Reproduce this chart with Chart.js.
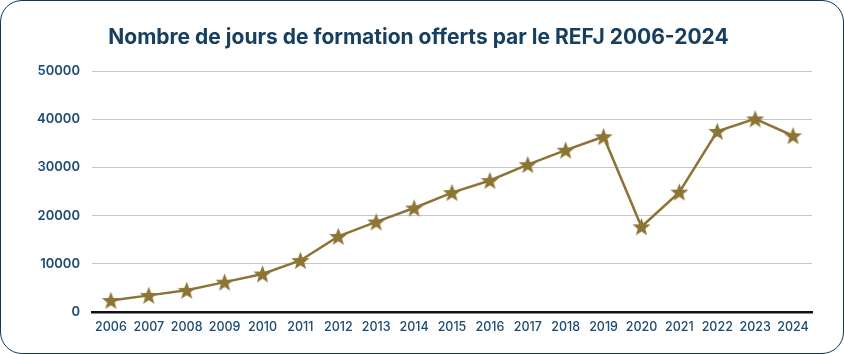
<!DOCTYPE html>
<html>
<head>
<meta charset="utf-8">
<script src="https://cdn.jsdelivr.net/npm/chart.js@4.4.1/dist/chart.umd.min.js"></script>
<style>
  html, body { margin: 0; padding: 0; background: #ffffff; }
  .card {
    position: absolute;
    left: 0; top: 0;
    width: 842px; height: 352px;
    border: 1px solid #0f3a5a;
    border-radius: 22px;
    background: #ffffff;
    overflow: hidden;
  }
  .card canvas { display: block; }
</style>
</head>
<body>
<div class="card">
  <canvas id="chart" width="842" height="352"></canvas>
</div>
<script>
// Data
const years = ['2006', '2007', '2008', '2009', '2010', '2011', '2012', '2013', '2014', '2015',
  '2016', '2017', '2018', '2019', '2020', '2021', '2022', '2023', '2024'];
const trainingDays = [2400, 3450, 4500, 6200, 7900, 10700, 15700, 18700, 21600, 24800,
  27300, 30600, 33600, 36400, 17700, 24900, 37500, 40100, 36600];
const yTicks = [0, 10000, 20000, 30000, 40000, 50000];

const gold = '#8c7534';
const navy = '#1b4a70';

// filled star marker
function makeStar(size, color) {
  const c = document.createElement('canvas');
  c.width = size; c.height = size;
  const g = c.getContext('2d');
  const cx = size / 2, cy = size / 2 + 0.8;
  const outer = size / 2, inner = outer * 0.42;
  g.beginPath();
  for (let i = 0; i < 10; i++) {
    const r = i % 2 === 0 ? outer : inner;
    const a = -Math.PI / 2 + i * Math.PI / 5;
    const x = cx + r * Math.cos(a), y = cy + r * Math.sin(a);
    if (i === 0) g.moveTo(x, y); else g.lineTo(x, y);
  }
  g.closePath();
  g.fillStyle = color;
  g.fill();
  return c;
}
const star = makeStar(19, gold);

new Chart(document.getElementById('chart'), {
  type: 'line',
  data: {
    labels: years,
    datasets: [{
      label: 'Jours de formation',
      data: trainingDays,
      borderColor: gold,
      backgroundColor: gold,
      borderWidth: 2.5,
      tension: 0,
      pointStyle: star,
      pointRadius: 9,
      pointHoverRadius: 9
    }]
  },
  options: {
    responsive: false,
    animation: false,
    layout: { padding: { left: 24, right: 31, top: 16, bottom: 10 } },
    plugins: {
      legend: { display: false },
      tooltip: { enabled: false },
      title: {
        display: true,
        text: 'Nombre de jours de formation offerts par le REFJ 2006-2024',
        color: '#163f60',
        font: { family: 'Inter', size: 21, weight: '700' },
        padding: { top: 8, bottom: 21 }
      }
    },
    scales: {
      x: {
        offset: true,
        grid: { display: false, drawTicks: false },
        border: { display: true, color: '#111111', width: 2.5 },
        ticks: {
          color: navy,
          padding: 8,
          maxRotation: 0,
          autoSkip: false,
          font: { family: 'Inter', size: 12.5, weight: '500' }
        }
      },
      y: {
        min: 0,
        max: 50000,
        afterBuildTicks: axis => { axis.ticks = yTicks.map(v => ({ value: v })); },
        grid: { color: '#c6c6ce', lineWidth: 1, drawTicks: false },
        border: { display: false },
        ticks: {
          color: navy,
          padding: 12,
          callback: v => String(v),
          font: { family: 'Inter', size: 13, weight: '600' }
        }
      }
    }
  }
});
</script>
</body>
</html>
